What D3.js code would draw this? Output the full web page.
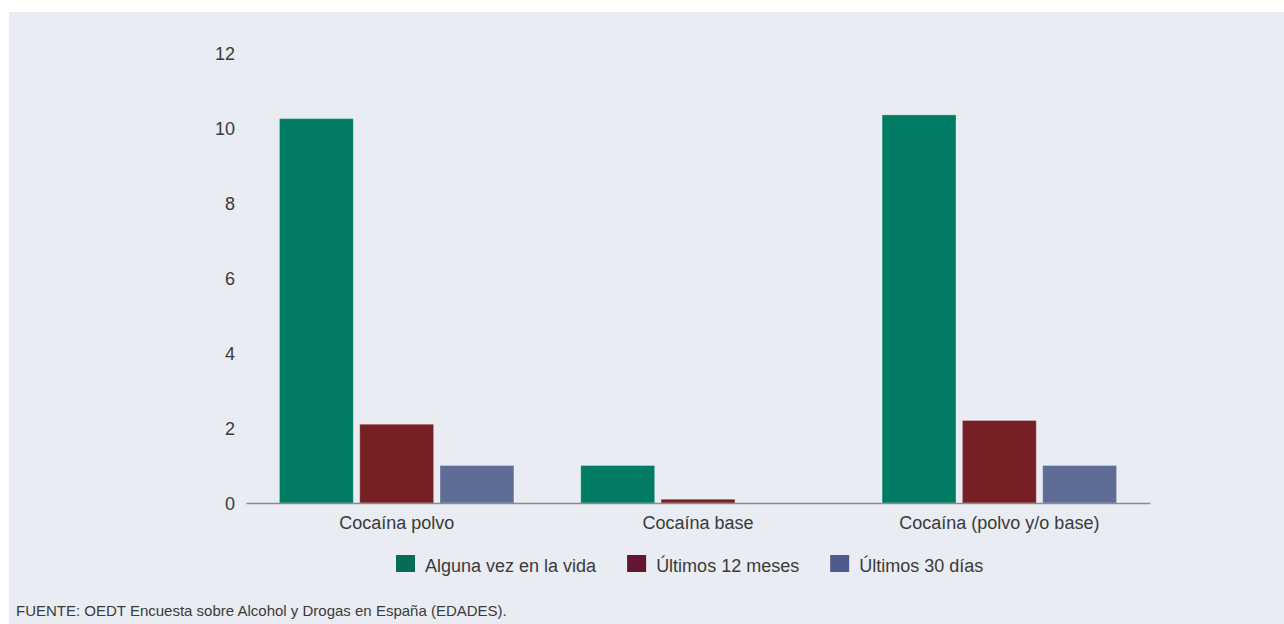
<!DOCTYPE html>
<html lang="es">
<head>
<meta charset="utf-8">
<script src="https://cdn.jsdelivr.net/npm/d3@7"></script>
<style>
  html, body { margin: 0; padding: 0; background: #ffffff; }
  svg { display: block; }
  text { font-family: "Liberation Sans", Helvetica, Arial, sans-serif; fill: #3a3a3a; }
</style>
</head>
<body>
<svg id="chart" width="1284" height="624"></svg>
<script>
// Prevalencia de consumo de cocaína (%)
const categories = ["Cocaína polvo", "Cocaína base", "Cocaína (polvo y/o base)"];
const seriesNames = ["Alguna vez en la vida", "Últimos 12 meses", "Últimos 30 días"];
const aVida = [10.25, 1.0, 10.35];
const ult12 = [2.1, 0.1, 2.2];
const ult30 = [1.0, 0.0, 1.0];
const yTicks = [0, 2, 4, 6, 8, 10, 12];
const barColors = ["#007c64", "#761f24", "#5e6c96"];
const legendColors = ["#086b56", "#64152f", "#4b5c8d"];
const source = "FUENTE: OEDT Encuesta sobre Alcohol y Drogas en España (EDADES).";

const seriesValues = [aVida, ult12, ult30];
const rows = categories.map((c, i) => ({
  category: c,
  values: seriesNames.map((s, j) => ({ series: s, idx: j, value: seriesValues[j][i] }))
}));

const svg = d3.select("#chart");
const fontStack = '"Liberation Sans", Helvetica, Arial, sans-serif';

// panel background
svg.append("rect")
  .attr("x", 9).attr("y", 12)
  .attr("width", 1284 - 9).attr("height", 624 - 12)
  .attr("fill", "#e9ecf3");

const plot = { left: 246, right: 1150, top: 53, bottom: 503 };

const y = d3.scaleLinear().domain([0, 12]).range([plot.bottom, plot.top]);
const x0 = d3.scaleBand().domain(categories)
  .range([plot.left, plot.right])
  .paddingInner(0.222).paddingOuter(0.111);
const x1 = d3.scaleBand().domain(seriesNames)
  .range([0, x0.bandwidth()])
  .paddingInner(0.08).paddingOuter(0);

// y axis labels (no line, no tick marks)
const yAxis = d3.axisLeft(y).tickValues(yTicks).tickSize(0).tickPadding(11).tickFormat(d3.format("d"));
const gy = svg.append("g").attr("transform", `translate(${plot.left},0)`).call(yAxis);
gy.select(".domain").remove();
gy.selectAll("text")
  .attr("font-size", "18px")
  .attr("fill", "#3a3a3a")
  .attr("dy", "0.37em")
  .style("font-family", fontStack);

// bars
const groups = svg.append("g").selectAll("g")
  .data(rows).join("g")
  .attr("transform", d => `translate(${x0(d.category)},0)`);

groups.selectAll("rect")
  .data(d => d.values).join("rect")
  .attr("x", d => x1(d.series))
  .attr("y", d => y(d.value))
  .attr("width", x1.bandwidth())
  .attr("height", d => y(0) - y(d.value))
  .attr("fill", d => barColors[d.idx])
  .attr("stroke", "rgba(255,255,255,0.28)")
  .attr("stroke-width", 1);

// x axis baseline and category labels
const xAxis = d3.axisBottom(x0).tickSize(0).tickPadding(13);
const gx = svg.append("g").attr("transform", `translate(0,${plot.bottom})`).call(xAxis);
gx.select(".domain")
  .attr("stroke", "#8a8a8a")
  .attr("stroke-width", 1.5);
gx.selectAll("text")
  .attr("font-size", "18px")
  .attr("fill", "#3a3a3a")
  .style("font-family", fontStack);

// legend
const legend = svg.append("g").attr("transform", "translate(396,555)");
let lx = 0;
seriesNames.forEach((name, i) => {
  const item = legend.append("g").attr("transform", `translate(${lx},0)`);
  item.append("rect")
    .attr("x", 0).attr("y", 0)
    .attr("width", 19).attr("height", 17)
    .attr("fill", legendColors[i]);
  const t = item.append("text")
    .attr("x", 29).attr("y", 16.5)
    .attr("font-size", "18px")
    .text(name);
  lx += 29 + t.node().getComputedTextLength() + 31;
});

// source note
svg.append("text")
  .attr("x", 16).attr("y", 616)
  .attr("font-size", "15px")
  .text(source);
</script>
</body>
</html>
